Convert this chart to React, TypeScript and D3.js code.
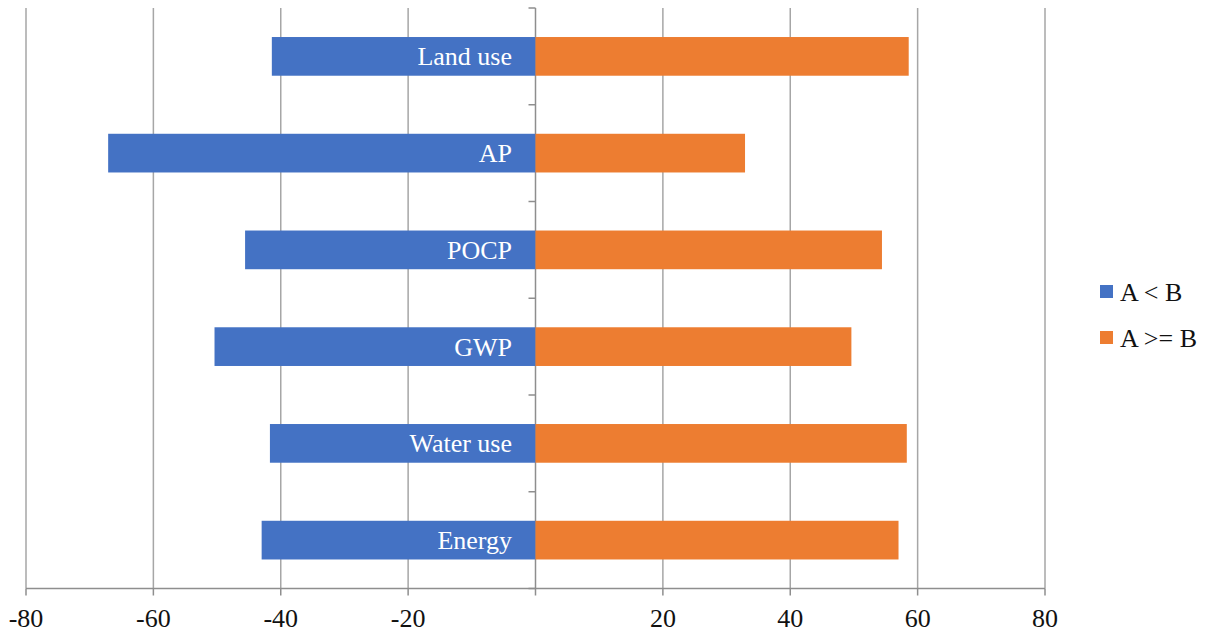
import React from "react";
import * as d3 from "d3";

const categories = ["Land use", "AP", "POCP", "GWP", "Water use", "Energy"];
const lessValues = [-41.4, -67.1, -45.6, -50.4, -41.7, -43.0];
const geValues = [58.6, 32.9, 54.4, 49.6, 58.3, 57.0];
const tickValues = [-80, -60, -40, -20, 0, 20, 40, 60, 80];
const seriesNames = ["A < B", "A >= B"];
const colors = ["#4472C4", "#ED7D31"];

const W = 1205;
const H = 632;
const FONT = "'Times New Roman', 'Liberation Serif', Tinos, 'DejaVu Serif', serif";

export default function App() {
  const x = d3.scaleLinear().domain([-80, 80]).range([26, 1045]);
  const y = d3.scaleBand<string>().domain(categories).range([8, 588.5]).paddingInner(0.6).paddingOuter(0.3);
  const top = 8;
  const bottom = 588.5;
  const x0 = x(0);
  const gridColor = "#a6a6a6";
  const axisColor = "#8e8e8e";
  const textStyle = { fontFamily: FONT, fontSize: "26px" };

  const boundaries = d3.range(categories.length + 1).map((i) => top + i * ((bottom - top) / categories.length));

  return (
    <svg width={W} height={H} style={{ position: "absolute", left: 0, top: 0, background: "#fff" }}>
      {tickValues.filter((t) => t !== 0).map((t) => (
        <line key={"g" + t} x1={x(t)} x2={x(t)} y1={top} y2={bottom} stroke={gridColor} strokeWidth={1.5} />
      ))}
      <line x1={x(-80)} x2={x(80)} y1={bottom} y2={bottom} stroke={axisColor} strokeWidth={1.5} />
      {tickValues.map((t) => (
        <line key={"bt" + t} x1={x(t)} x2={x(t)} y1={bottom} y2={bottom + 7} stroke={axisColor} strokeWidth={1.5} />
      ))}
      <line x1={x0} x2={x0} y1={top} y2={bottom} stroke={axisColor} strokeWidth={1.5} />
      {boundaries.map((b, i) => (
        <line key={"vt" + i} x1={x0 - 7} x2={x0} y1={b} y2={b} stroke={axisColor} strokeWidth={1.5} />
      ))}
      {categories.map((c, i) => {
        const yy = y(c)!;
        const h = y.bandwidth();
        return (
          <g key={c}>
            <rect x={x(lessValues[i])} y={yy} width={x0 - x(lessValues[i])} height={h} fill={colors[0]} />
            <rect x={x0} y={yy} width={x(geValues[i]) - x0} height={h} fill={colors[1]} />
            <text x={x0 - 23.5} y={yy + h / 2 + 9} textAnchor="end" fill="#fff" style={textStyle}>
              {c}
            </text>
          </g>
        );
      })}
      {tickValues.filter((t) => t !== 0).map((t) => (
        <text key={"tl" + t} x={x(t)} y={627} textAnchor="middle" fill="#111" style={textStyle}>
          {t}
        </text>
      ))}
      {seriesNames.map((s, i) => (
        <g key={s}>
          <rect x={1100} y={285 + i * 46} width={13} height={13} fill={colors[i]} />
          <text x={1120} y={301 + i * 46} fill="#111" style={textStyle}>
            {s}
          </text>
        </g>
      ))}
    </svg>
  );
}
